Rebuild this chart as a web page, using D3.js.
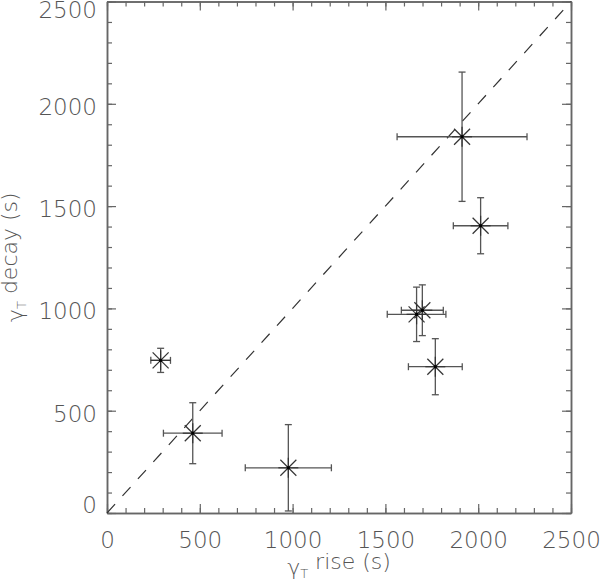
<!DOCTYPE html>
<html>
<head>
<meta charset="utf-8">
<script src="https://cdn.jsdelivr.net/npm/d3@7"></script>
<style>
  html, body { margin: 0; padding: 0; background: #fff; }
  svg { display: block; }
  text { font-family: "DejaVu Sans", sans-serif; font-weight: 200; fill: #555; }
</style>
</head>
<body>
<svg id="chart" width="600" height="583"></svg>
<script>
// ---- data ----
const riseVals  = [1913, 2013, 1668, 1699, 1769, 289, 462, 977];
const riseErr   = [350, 147, 158, 113, 145, 53, 158, 232];
const decayVals = [1839, 1404, 971, 991, 715, 746, 390, 221];
const decayErr  = [316, 137, 133, 124, 137, 59, 149, 211];
const majorTicks = [0, 500, 1000, 1500, 2000, 2500];
const minorTicks = d3.range(0, 2501, 100);
const xTitle = ["γ", "T", " rise  (s)"];
const yTitle = ["γ", "T", " decay  (s)"];
const diagLine = [0, 2500];

const svg = d3.select("#chart");
const L = 107, R = 571, T = 1.5, B = 513;
const x = d3.scaleLinear().domain([0, 2500]).range([L, R]);
const y = d3.scaleLinear().domain([0, 2500]).range([B, T]);
const axisColor = "#666";

function styleAxis(g) {
  g.selectAll("path.domain").attr("stroke", axisColor).attr("stroke-width", 1.5);
  g.selectAll(".tick line").attr("stroke", axisColor).attr("stroke-width", 1.2);
  g.selectAll("text").attr("fill", "#555").style("font-size", "23px")
    .style("font-family", '"DejaVu Sans", sans-serif').style("font-weight", 200);
}

// minor ticks
svg.append("g").attr("transform", `translate(0,${B})`)
  .call(d3.axisBottom(x).tickValues(minorTicks).tickSizeInner(-5).tickSizeOuter(0).tickFormat(""))
  .call(styleAxis);
svg.append("g").attr("transform", `translate(0,${T})`)
  .call(d3.axisTop(x).tickValues(minorTicks).tickSizeInner(-5).tickSizeOuter(0).tickFormat(""))
  .call(styleAxis);
svg.append("g").attr("transform", `translate(${L},0)`)
  .call(d3.axisLeft(y).tickValues(minorTicks).tickSizeInner(-5).tickSizeOuter(0).tickFormat(""))
  .call(styleAxis);
svg.append("g").attr("transform", `translate(${R},0)`)
  .call(d3.axisRight(y).tickValues(minorTicks).tickSizeInner(-5).tickSizeOuter(0).tickFormat(""))
  .call(styleAxis);

// major ticks with labels
svg.append("g").attr("transform", `translate(0,${B})`)
  .call(d3.axisBottom(x).tickValues(majorTicks).tickSizeInner(-9).tickSizeOuter(0).tickPadding(19).tickFormat(d3.format("d")))
  .call(styleAxis);
svg.append("g").attr("transform", `translate(0,${T})`)
  .call(d3.axisTop(x).tickValues(majorTicks).tickSizeInner(-9).tickSizeOuter(0).tickFormat(""))
  .call(styleAxis);
const gyl = svg.append("g").attr("transform", `translate(${L},0)`)
  .call(d3.axisLeft(y).tickValues(majorTicks).tickSizeInner(-9).tickSizeOuter(0).tickPadding(10).tickFormat(d3.format("d")))
  .call(styleAxis);
gyl.selectAll(".tick text").attr("y", d => {
  const py = y(d) + 3;
  const c = Math.max(10.5, Math.min(505.5, py));
  return c - y(d);
});
svg.append("g").attr("transform", `translate(${R},0)`)
  .call(d3.axisRight(y).tickValues(majorTicks).tickSizeInner(-9).tickSizeOuter(0).tickFormat(""))
  .call(styleAxis);

// diagonal dashed line
svg.append("line")
  .attr("x1", x(diagLine[0])).attr("y1", y(diagLine[0]))
  .attr("x2", x(diagLine[1])).attr("y2", y(diagLine[1]))
  .attr("stroke", "#333").attr("stroke-width", 1.2)
  .attr("stroke-dasharray", "12,11");

// error bars and markers
const pts = riseVals.map((v, i) => ({ x: v, xe: riseErr[i], y: decayVals[i], ye: decayErr[i] }));
const eg = svg.append("g").attr("stroke", "#555").attr("stroke-width", 1.3).attr("fill", "none");
const cap = 3.5;
pts.forEach(p => {
  const cx = x(p.x), cy = y(p.y);
  const x0 = x(p.x - p.xe), x1 = x(p.x + p.xe);
  const y0 = y(p.y - p.ye), y1 = y(p.y + p.ye);
  eg.append("line").attr("x1", x0).attr("x2", x1).attr("y1", cy).attr("y2", cy);
  eg.append("line").attr("x1", x0).attr("x2", x0).attr("y1", cy - cap).attr("y2", cy + cap);
  eg.append("line").attr("x1", x1).attr("x2", x1).attr("y1", cy - cap).attr("y2", cy + cap);
  eg.append("line").attr("x1", cx).attr("x2", cx).attr("y1", y0).attr("y2", y1);
  eg.append("line").attr("x1", cx - cap).attr("x2", cx + cap).attr("y1", y0).attr("y2", y0);
  eg.append("line").attr("x1", cx - cap).attr("x2", cx + cap).attr("y1", y1).attr("y2", y1);
});
const mg = svg.append("g").attr("stroke", "#333").attr("stroke-width", 1.2);
pts.forEach(p => {
  const cx = x(p.x), cy = y(p.y), a = 8, v = 10;
  mg.append("line").attr("x1", cx - a).attr("y1", cy - a).attr("x2", cx + a).attr("y2", cy + a);
  mg.append("line").attr("x1", cx - a).attr("y1", cy + a).attr("x2", cx + a).attr("y2", cy - a);
  mg.append("line").attr("x1", cx).attr("y1", cy - v).attr("x2", cx).attr("y2", cy + v);
  mg.append("line").attr("x1", cx - v).attr("y1", cy).attr("x2", cx + v).attr("y2", cy);
  svg.append("rect").attr("x", cx - 1.5).attr("y", cy - 1.5).attr("width", 3).attr("height", 3).attr("fill", "#000");
});

// titles
function title(parts, tx, ty, rot) {
  const t = svg.append("text")
    .attr("transform", `translate(${tx},${ty}) rotate(${rot})`)
    .attr("text-anchor", "middle")
    .style("font-size", "22px");
  t.append("tspan").text(parts[0]);
  t.append("tspan").attr("dy", "0.25em").style("font-size", "13px").text(parts[1]);
  t.append("tspan").attr("dy", "-0.4em").text(parts[2]);
}
title(xTitle, (L + R) / 2, 575, 0);
title(yTitle, 23, (T + B) / 2, -90);
</script>
</body>
</html>
